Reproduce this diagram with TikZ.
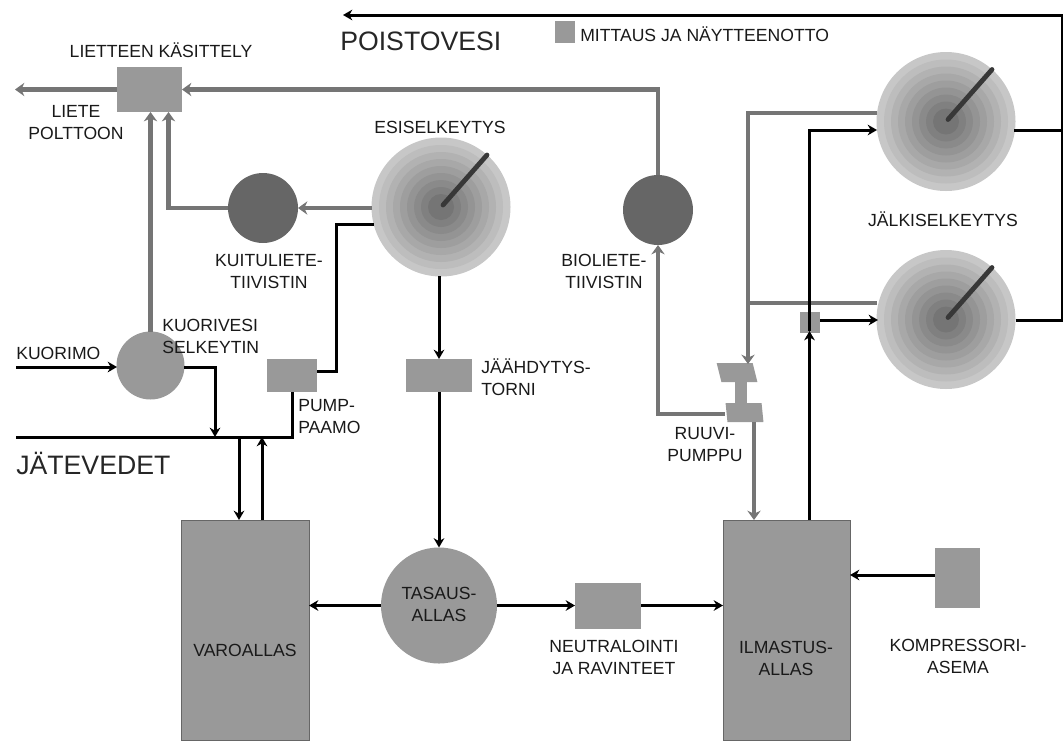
\documentclass[tikz,border=0pt]{standalone}
\usepackage{fontspec}
\setmainfont{Liberation Sans}
\usetikzlibrary{arrows.meta}
\definecolor{boxgray}{HTML}{999999}
\definecolor{pipegray}{HTML}{757575}
\definecolor{darkgray}{HTML}{666666}
\tikzset{
	lbl/.style={font=\fontsize{13.2}{16.5}\selectfont,inner sep=0pt,text=black!90,align=center},
	biglbl/.style={font=\fontsize{20}{24}\selectfont,inner sep=0pt,text=black!85,anchor=west},
	tank/.style={fill=boxgray,inner sep=0pt,outer sep=0pt,draw=none},
	bigtank/.style={tank,draw=black!60,line width=0.6pt},
	drum/.style={circle,inner sep=0pt,outer sep=0pt,minimum size=#1},
	water/.style={draw=black,line width=2.25pt,-{Stealth[length=7pt,width=8pt]}},
	waterline/.style={draw=black,line width=2.25pt},
	sludge/.style={draw=pipegray,line width=3.6pt,-{Stealth[length=7pt,width=10pt]}},
	sludgeline/.style={draw=pipegray,line width=3.6pt},
}
\begin{document}
\begin{tikzpicture}[line cap=butt,line join=miter,x=0.75pt,y=-0.75pt]
				\useasboundingbox (0,0) rectangle (1063,740);
				% boxes
				\node [tank,minimum width=48.75pt,minimum height=33.75pt] (lk) at (149.5,89.5) {};
				\node [tank,minimum width=15pt,minimum height=16.5pt] (legendbox) at (565,32) {};
				\node [tank,minimum width=37.5pt,minimum height=24.75pt] (pump) at (292,375.5) {};
				\node [tank,minimum width=49.5pt,minimum height=24.75pt] (cool) at (439,375.5) {};
				\node [bigtank,minimum width=96pt,minimum height=165pt] (varo) at (245,630) {};
				\node [bigtank,minimum width=95.25pt,minimum height=165pt] (ilma) at (786.5,630) {};
				\node [tank,minimum width=49.5pt,minimum height=34.5pt] (neutr) at (608,605.5) {};
				\node [tank,minimum width=33.75pt,minimum height=45pt] (komp) at (957.5,578) {};
				\node [tank,minimum width=15pt,minimum height=15.75pt] (meas) at (810,322.5) {};
				% screw pump
				\node [tank,minimum width=9pt,minimum height=18pt] (screw) at (741,392.5) {};
				\node [tank,minimum width=27pt,minimum height=14.25pt,xslant=-0.25,transform shape] (screwtop) at (737,372.5) {};
				\node [tank,minimum width=27pt,minimum height=14.25pt,xslant=-0.1,transform shape] (screwbot) at (744.5,412.5) {};
				% drums
				\node [drum=52.5pt,fill=darkgray] (kuitu) at (263,208) {};
				\node [drum=52.5pt,fill=darkgray] (bio) at (658,210) {};
				\node [drum=51pt,fill=boxgray] (kuori) at (150.5,365.5) {};
				\node [drum=87pt,fill=boxgray] (tasaus) at (439,605.5) {};
				% clarifiers
				\node [drum=103.5pt] (esi) at (441,207) {};
				\node [drum=104.25pt] (jalki1) at (946,121.5) {};
				\node [drum=104.25pt] (jalki2) at (946,319.5) {};
				\foreach \c in {esi,jalki1,jalki2} {
					\foreach \r/\g in {69.5/22,62/26,55/30,48/34,41/38,34/42,27/46,20/50,13/54}
						\fill [black!\g] (\c) circle (\r);
					\draw [line width=3.6pt,black!78,line cap=round] (\c) ++(2,-2) -- ++(44,-50);
				}
				% free ends
				\coordinate (outleft) at (15,89.5);
				\coordinate (lkin1) at (150.5,112);
				\coordinate (lkin2) at (168.5,112);
				\coordinate (kuorimo) at (16,367);
				\coordinate (kuorin) at (117,367);
				\coordinate (kuorout) at (184,367);
				\coordinate (drain) at (215,437);
				\coordinate (wasteleft) at (16,437);
				\coordinate (varoin) at (239,520);
				\coordinate (varoout) at (262,520);
				\coordinate (wastein) at (239,437);
				\coordinate (wasteout) at (262,437);
				\coordinate (esiout) at (374,224);
				\coordinate (pumpin) at (317,371);
				\coordinate (bend) at (336,224);
				\coordinate (effluent) at (343,15);
				\coordinate (topright) at (1062,15);
				\coordinate (j1out) at (1014,130);
				\coordinate (j2out) at (1016,320);
				\coordinate (j1in) at (877,130);
				\coordinate (j2in) at (878,320);
				\coordinate (measout) at (820,320);
				\coordinate (j1back) at (877,113);
				\coordinate (j2back) at (877,303);
				\coordinate (backjoin) at (748,303);
				\coordinate (screwin) at (748,364);
				\coordinate (ilmain) at (754,520);
				\coordinate (screwout) at (754,422);
				\coordinate (biofeed) at (725,414);
				\coordinate (ilmaup) at (809.5,520);
				\coordinate (measin) at (809.5,331);
				\coordinate (komporig) at (935,575);
				\coordinate (kompto) at (850,575);
				% sludge lines
				\draw [sludge] (lk.west) -- (outleft);
				\draw [sludge] (bio.north) |- (lk.east);
				\draw [sludge] (kuori.north) -- (lkin1);
				\draw [sludge] (kuitu.west) -| (lkin2);
				\draw [sludge] (kuitu.east -| esi.west) -- (kuitu.east);
				\draw [sludge] (biofeed) -| (bio.south);
				\draw [sludge] (j1back) -| (screwin);
				\draw [sludgeline] (j2back) -- (backjoin);
				\draw [sludge] (screwout) -- (ilmain);
				% water lines
				\draw [water] (kuorimo) -- (kuorin);
				\draw [water] (kuorout) -| (drain);
				\draw [waterline] (pump.south) |- (wasteleft);
				\draw [water] (wastein) -- (varoin);
				\draw [water] (varoout) -- (wasteout);
				\draw [waterline] (esiout) -- (bend) |- (pumpin);
				\draw [water] (esi.south -| cool.north) -- (cool.north);
				\draw [water] (cool.south) -- (tasaus.north);
				\draw [water] (tasaus.west) -- (varo.east |- tasaus.west);
				\draw [water] (tasaus.east) -- (neutr.west);
				\draw [water] (neutr.east) -- (ilma.west |- neutr.east);
				\draw [water] (komporig) -- (kompto);
				\draw [water] (ilmaup) -- (measin);
				\draw [water] (measin) |- (j1in);
				\draw [water] (measout) -- (j2in);
				\draw [waterline] (j1out) -| (topright);
				\draw [water] (j2out) -| (topright) -- (effluent);
				% labels
				\node [lbl] (lklbl) at (161,50) {LIETTEEN KÄSITTELY};
				\node [biglbl] (poisto) at (340,41) {POISTOVESI};
				\node [lbl,anchor=west] (legend) at (580,34) {MITTAUS JA NÄYTTEENOTTO};
				\node [lbl] (lietelbl) at (76,123) {LIETE\\POLTTOON};
				\node [lbl] (esilbl) at (440,127) {ESISELKEYTYS};
				\node [lbl] (kuitulbl) at (269,272) {KUITULIETE-\\TIIVISTIN};
				\node [lbl] (biolbl) at (604,271) {BIOLIETE-\\TIIVISTIN};
				\node [lbl] (jalkilbl) at (943,219) {JÄLKISELKEYTYS};
				\node [lbl,anchor=west,align=left] (kuorilbl) at (162,336) {KUORIVESI\\SELKEYTIN};
				\node [lbl,anchor=west] (kuorimolbl) at (16,353) {KUORIMO};
				\node [lbl,anchor=west,align=left] (pumplbl) at (298,417) {PUMP-\\PAAMO};
				\node [biglbl] (jatelbl) at (16,463) {JÄTEVEDET};
				\node [lbl,anchor=west,align=left] (coollbl) at (481,377) {JÄÄHDYTYS-\\TORNI};
				\node [lbl] (ruuvilbl) at (705,445) {RUUVI-\\PUMPPU};
				\node [lbl] (tasauslbl) at (439,604) {TASAUS-\\ALLAS};
				\node [lbl] (varolbl) at (245,650) {VAROALLAS};
				\node [lbl] (neutrlbl) at (614,657) {NEUTRALOINTI\\JA RAVINTEET};
				\node [lbl] (ilmalbl) at (786,658) {ILMASTUS-\\ALLAS};
				\node [lbl] (komplbl) at (958,656) {KOMPRESSORI-\\ASEMA};
\end{tikzpicture}
\end{document}
